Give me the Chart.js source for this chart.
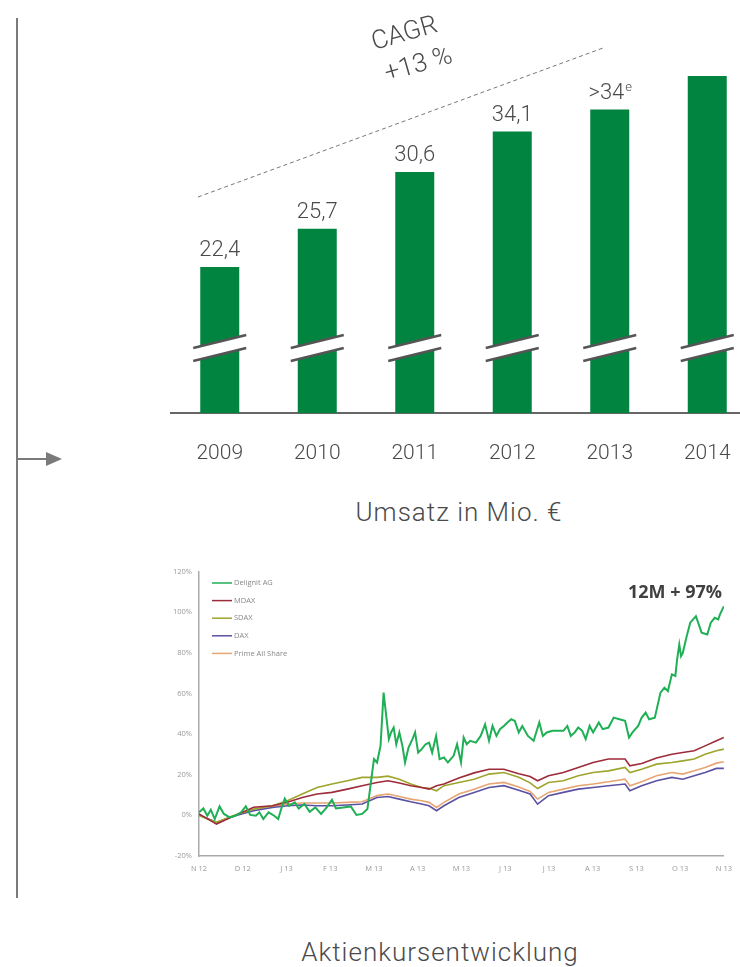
<!DOCTYPE html>
<html lang="de">
<head>
  <meta charset="UTF-8">
  <title>Umsatz und Aktienkursentwicklung</title>
  <script src="https://cdn.jsdelivr.net/npm/chart.js"></script>
  <style>
    body {
      margin: 0;
      width: 740px;
      height: 967px;
      overflow: hidden;
      background: #fff;
      font-family: 'Roboto', sans-serif;
      position: relative;
    }
    canvas { position: absolute; }
    #umsatzChart { left: 160px; top: 0; }
    #kursChart { left: 160px; top: 560px; }
    .txt {
      position: absolute;
      transform: translate(-50%, -50%);
      white-space: nowrap;
      color: #4a4a4a;
      font-weight: 300;
    }
    .gross { font-size: 26px; letter-spacing: 1px; }
    .cagr { font-size: 26px; font-weight: 300; transform: translate(-50%, -50%) rotate(-16deg); }
    #linieV { position: absolute; left: 16px; top: 18px; width: 2px; height: 880px; background: #7a7a7a; }
    #linieH { position: absolute; left: 17px; top: 458px; width: 30px; height: 2px; background: #7a7a7a; }
    #pfeil {
      position: absolute; left: 46px; top: 452px; width: 0; height: 0;
      border-top: 7px solid transparent; border-bottom: 7px solid transparent;
      border-left: 16px solid #7a7a7a;
    }
  </style>
</head>
<body>

<div id="linieV"></div>
<div id="linieH"></div>
<div id="pfeil"></div>

<canvas id="umsatzChart" width="600" height="480"></canvas>
<div class="txt cagr" style="left:404px; top:32px;">CAGR</div>
<div class="txt cagr" style="left:418px; top:63px;">+13 %</div>
<div class="txt gross" style="left:459px; top:512px;">Umsatz in Mio. €</div>

<canvas id="kursChart" width="580" height="330"></canvas>
<div class="txt" style="left:675px; top:591px; font-size:18px; font-weight:700; font-family:'Open Sans', sans-serif; color:#404040;">12M + 97%</div>
<div class="txt gross" style="left:440px; top:952px;">Aktienkursentwicklung</div>

<script>
  // Umsatz (Mio. €)
  var jahre = ['2009', '2010', '2011', '2012', '2013', '2014'];
  var umsatz = [22.4, 25.7, 30.6, 34.1, 36.0, 38.9];
  var umsatzText = ['22,4', '25,7', '30,6', '34,1', '>34', ''];
  var umsatzHoch = ['', '', '', '', 'e', ''];

  // Aktienkurs, x in Monaten ab Nov 2012, y in %
  var monate = ['N 12', 'D 12', 'J 13', 'F 13', 'M 13', 'A 13', 'M 13', 'J 13', 'J 13', 'A 13', 'S 13', 'O 13', 'N 13'];

  var delignitX = [0, 0.10, 0.19, 0.27, 0.36, 0.47, 0.57, 0.70, 0.83, 0.96, 1.07, 1.17, 1.30, 1.38, 1.47, 1.59, 1.72, 1.81, 1.89, 1.96,
    2.06, 2.19, 2.28, 2.41, 2.53, 2.66, 2.79, 2.92, 3.04, 3.13, 3.30, 3.47, 3.60, 3.73, 3.85, 3.94, 4.00, 4.07, 4.15, 4.22,
    4.28, 4.34, 4.39, 4.45, 4.51, 4.58, 4.65, 4.71, 4.79, 4.88, 4.94, 5.01, 5.09, 5.18, 5.26, 5.33, 5.42, 5.50, 5.60, 5.69,
    5.82, 5.90, 5.99, 6.05, 6.12, 6.20, 6.33, 6.44, 6.54, 6.63, 6.71, 6.80, 6.88, 6.97, 7.05, 7.14, 7.22, 7.31, 7.39, 7.52,
    7.65, 7.78, 7.86, 7.95, 8.08, 8.20, 8.33, 8.42, 8.50, 8.59, 8.67, 8.76, 8.84, 8.93, 9.01, 9.14, 9.23, 9.36, 9.48, 9.61,
    9.74, 9.83, 9.91, 10.04, 10.12, 10.21, 10.29, 10.42, 10.55, 10.64, 10.72, 10.81, 10.89, 10.93, 10.98, 11.02, 11.06, 11.15, 11.23, 11.36,
    11.49, 11.62, 11.70, 11.79, 11.87, 11.91, 12.0];
  var delignit = [1.5, 3.4, -0.2, 2.8, -1.8, 4.4, 0.7, -1.0, -0.2, 1.5, 4.4, 0.2, -0.2, 1.5, -1.8, 1.5, -0.2, -1.8, 3.9, 8.3,
    4.7, 6.4, 3.4, 5.6, 1.8, 3.9, 0.7, 3.9, 7.7, 3.4, 3.9, 4.4, 0.2, 0.7, 3.1, 17.8, 27.7, 26.0, 34.2, 60.4,
    48.9, 37.5, 40.8, 43.2, 35.0, 40.8, 34.2, 26.0, 33.4, 37.5, 40.8, 30.9, 32.6, 35.0, 35.8, 30.9, 39.1, 27.7, 28.5, 26.0,
    29.3, 35.0, 26.0, 38.3, 35.0, 36.7, 35.8, 39.1, 44.8, 36.7, 44.0, 39.1, 42.4, 44.0, 45.7, 47.3, 46.5, 40.8, 44.0, 39.1,
    36.7, 45.7, 39.1, 40.8, 41.6, 41.6, 41.6, 44.0, 39.1, 40.8, 43.2, 41.6, 37.5, 44.0, 40.8, 45.7, 42.4, 43.2, 48.1, 47.3,
    46.5, 38.3, 40.8, 44.0, 48.1, 50.6, 47.3, 48.1, 60.4, 62.8, 61.2, 69.4, 68.6, 76.8, 84.1, 78.4, 80.0, 88.2, 94.8, 98.0,
    89.9, 89.0, 94.8, 97.2, 96.4, 98.9, 102.9];

  var indexX = [0, 0.40, 0.83, 1.25, 1.68, 2.02, 2.36, 2.70, 3.04, 3.39, 3.73, 4.07, 4.32, 4.58, 4.84, 5.09, 5.26, 5.43, 5.60, 5.94,
    6.29, 6.63, 6.97, 7.31, 7.57, 7.74, 7.99, 8.33, 8.67, 9.01, 9.36, 9.74, 9.85, 10.12, 10.46, 10.81, 11.06, 11.32, 11.57, 11.83, 12.0];
  var mdax = [0.7, -4.3, 0.0, 4.0, 4.7, 6.4, 8.8, 10.5, 11.3, 12.9, 14.6, 16.2, 17.0, 15.9, 14.6, 13.7, 12.9, 14.6, 15.4, 18.4,
    20.9, 22.7, 22.7, 20.5, 19.1, 17.0, 19.5, 21.1, 23.6, 26.0, 27.7, 27.7, 24.4, 25.5, 28.2, 30.1, 30.9, 31.8, 34.2, 36.7, 38.3];
  var sdax = [-0.2, -3.4, 0.2, 3.1, 4.7, 7.2, 10.5, 13.7, 15.4, 17.0, 18.7, 18.7, 19.3, 17.8, 15.4, 13.7, 13.3, 12.1, 14.6, 16.2,
    17.8, 20.3, 21.1, 18.7, 16.0, 13.2, 16.2, 17.0, 19.5, 21.1, 21.9, 23.6, 21.1, 22.7, 25.2, 26.0, 26.8, 27.7, 30.1, 31.8, 32.6];
  var dax = [0.2, -3.4, -0.2, 2.3, 3.9, 4.7, 5.1, 4.7, 4.7, 5.1, 5.6, 8.8, 9.3, 8.0, 6.7, 5.6, 4.7, 2.3, 4.7, 8.8,
    11.3, 13.7, 14.6, 12.3, 10.5, 5.5, 9.7, 11.3, 12.9, 13.7, 14.6, 15.4, 12.1, 14.6, 17.0, 18.7, 17.8, 19.5, 21.1, 23.1, 23.1];
  var primeAll = [0.2, -3.8, 0.2, 2.8, 4.4, 5.6, 6.1, 6.1, 6.1, 6.4, 6.7, 9.7, 10.5, 9.3, 8.0, 7.2, 6.4, 3.9, 6.4, 10.5,
    12.9, 15.4, 16.2, 13.9, 11.8, 8.0, 11.3, 12.9, 14.6, 15.4, 16.5, 17.8, 14.6, 16.5, 19.5, 21.1, 20.3, 21.9, 23.6, 25.7, 26.4];

  function punkte(xs, ys) {
    return xs.map(function (x, i) { return { x: x, y: ys[i] }; });
  }

  // --- Balkendiagramm ---
  var balkenPlugin = {
    id: 'balkenDeko',
    afterDatasetsDraw: function (chart) {
      var ctx = chart.ctx;
      var meta = chart.getDatasetMeta(0);
      var basis = chart.chartArea.bottom;
      ctx.save();

      // Achsenbruch
      meta.data.forEach(function (bar) {
        var l = bar.x - bar.width / 2 - 7;
        var r = bar.x + bar.width / 2 + 7;
        var yc = basis - 71;
        ctx.fillStyle = '#fff';
        ctx.beginPath();
        ctx.moveTo(l, yc + 6);
        ctx.lineTo(r, yc - 7);
        ctx.lineTo(r, yc + 6);
        ctx.lineTo(l, yc + 19);
        ctx.closePath();
        ctx.fill();
        ctx.strokeStyle = '#555';
        ctx.lineWidth = 2.5;
        ctx.beginPath();
        ctx.moveTo(l, yc + 6);
        ctx.lineTo(r, yc - 7);
        ctx.moveTo(l, yc + 19);
        ctx.lineTo(r, yc + 6);
        ctx.stroke();
      });

      // Werte über den Balken
      ctx.fillStyle = '#4a4a4a';
      ctx.textBaseline = 'alphabetic';
      meta.data.forEach(function (bar, i) {
        var t = umsatzText[i];
        var s = umsatzHoch[i];
        if (!t) return;
        ctx.font = '300 22px Roboto';
        var w1 = ctx.measureText(t).width;
        ctx.font = '300 13px Roboto';
        var w2 = s ? ctx.measureText(s).width : 0;
        var x0 = bar.x - (w1 + w2) / 2;
        var y0 = bar.y - 11;
        ctx.font = '300 22px Roboto';
        ctx.textAlign = 'left';
        ctx.fillText(t, x0, y0);
        if (s) {
          ctx.font = '300 13px Roboto';
          ctx.fillText(s, x0 + w1 + 1, y0 - 8);
        }
      });

      // CAGR-Linie
      ctx.strokeStyle = '#777';
      ctx.lineWidth = 1;
      ctx.setLineDash([4, 3]);
      ctx.beginPath();
      ctx.moveTo(38, 197);
      ctx.lineTo(443, 48);
      ctx.stroke();
      ctx.restore();
    }
  };

  new Chart(document.getElementById('umsatzChart'), {
    type: 'bar',
    data: {
      labels: jahre,
      datasets: [{
        data: umsatz,
        backgroundColor: '#00843f',
        barPercentage: 0.4,
        categoryPercentage: 1
      }]
    },
    options: {
      responsive: false,
      animation: false,
      layout: { padding: { left: 11, right: 4, top: 40, bottom: 0 } },
      plugins: { legend: { display: false }, tooltip: { enabled: false } },
      scales: {
        x: {
          grid: { display: false, drawTicks: false },
          border: { display: true, color: '#666', width: 2 },
          ticks: { color: '#4a4a4a', font: { family: 'Roboto', size: 21, weight: 300 }, padding: 28 },
          afterFit: function (s) { s.height = 67; }
        },
        y: {
          display: false,
          min: 9.8,
          max: 42
        }
      }
    },
    plugins: [balkenPlugin]
  });

  // --- Liniendiagramm ---
  var legendePlugin = {
    id: 'legendeLinks',
    afterDraw: function (chart) {
      var ctx = chart.ctx;
      ctx.save();
      ctx.font = '7.5px "Open Sans"';
      ctx.textBaseline = 'middle';
      ctx.textAlign = 'left';
      chart.data.datasets.forEach(function (ds, i) {
        var y = 23 + i * 17.6;
        ctx.strokeStyle = ds.borderColor;
        ctx.lineWidth = 1.5;
        ctx.beginPath();
        ctx.moveTo(52, y);
        ctx.lineTo(72, y);
        ctx.stroke();
        ctx.fillStyle = '#888';
        ctx.fillText(ds.label, 74, y);
      });
      ctx.restore();
    }
  };

  new Chart(document.getElementById('kursChart'), {
    type: 'line',
    data: {
      datasets: [
        { label: 'Delignit AG', data: punkte(delignitX, delignit), borderColor: '#1faf55', borderWidth: 2 },
        { label: 'MDAX', data: punkte(indexX, mdax), borderColor: '#9e2b3a', borderWidth: 1.6 },
        { label: 'SDAX', data: punkte(indexX, sdax), borderColor: '#9ea52c', borderWidth: 1.6 },
        { label: 'DAX', data: punkte(indexX, dax), borderColor: '#5a51a3', borderWidth: 1.6 },
        { label: 'Prime All Share', data: punkte(indexX, primeAll), borderColor: '#e6a572', borderWidth: 1.6 }
      ]
    },
    options: {
      responsive: false,
      animation: false,
      elements: { point: { radius: 0 }, line: { tension: 0 } },
      layout: { padding: { left: 0, right: 16, top: 11, bottom: 0 } },
      plugins: { legend: { display: false }, tooltip: { enabled: false } },
      scales: {
        x: {
          type: 'linear',
          min: 0,
          max: 12,
          grid: { display: false, drawTicks: false },
          border: { color: '#aaa', width: 1.5 },
          ticks: {
            stepSize: 1,
            color: '#999',
            font: { family: 'Open Sans', size: 7.5 },
            padding: 8,
            maxRotation: 0,
            autoSkip: false,
            callback: function (v) { return monate[v]; }
          },
          afterFit: function (s) { s.height = 34; }
        },
        y: {
          min: -20,
          max: 120,
          grid: { display: false, drawTicks: false },
          border: { color: '#aaa', width: 1.5 },
          ticks: {
            stepSize: 20,
            color: '#999',
            font: { family: 'Open Sans', size: 7.5 },
            padding: 7,
            callback: function (v) { return v + '%'; }
          },
          afterFit: function (s) { s.width = 39; }
        }
      }
    },
    plugins: [legendePlugin]
  });
</script>

</body>
</html>
